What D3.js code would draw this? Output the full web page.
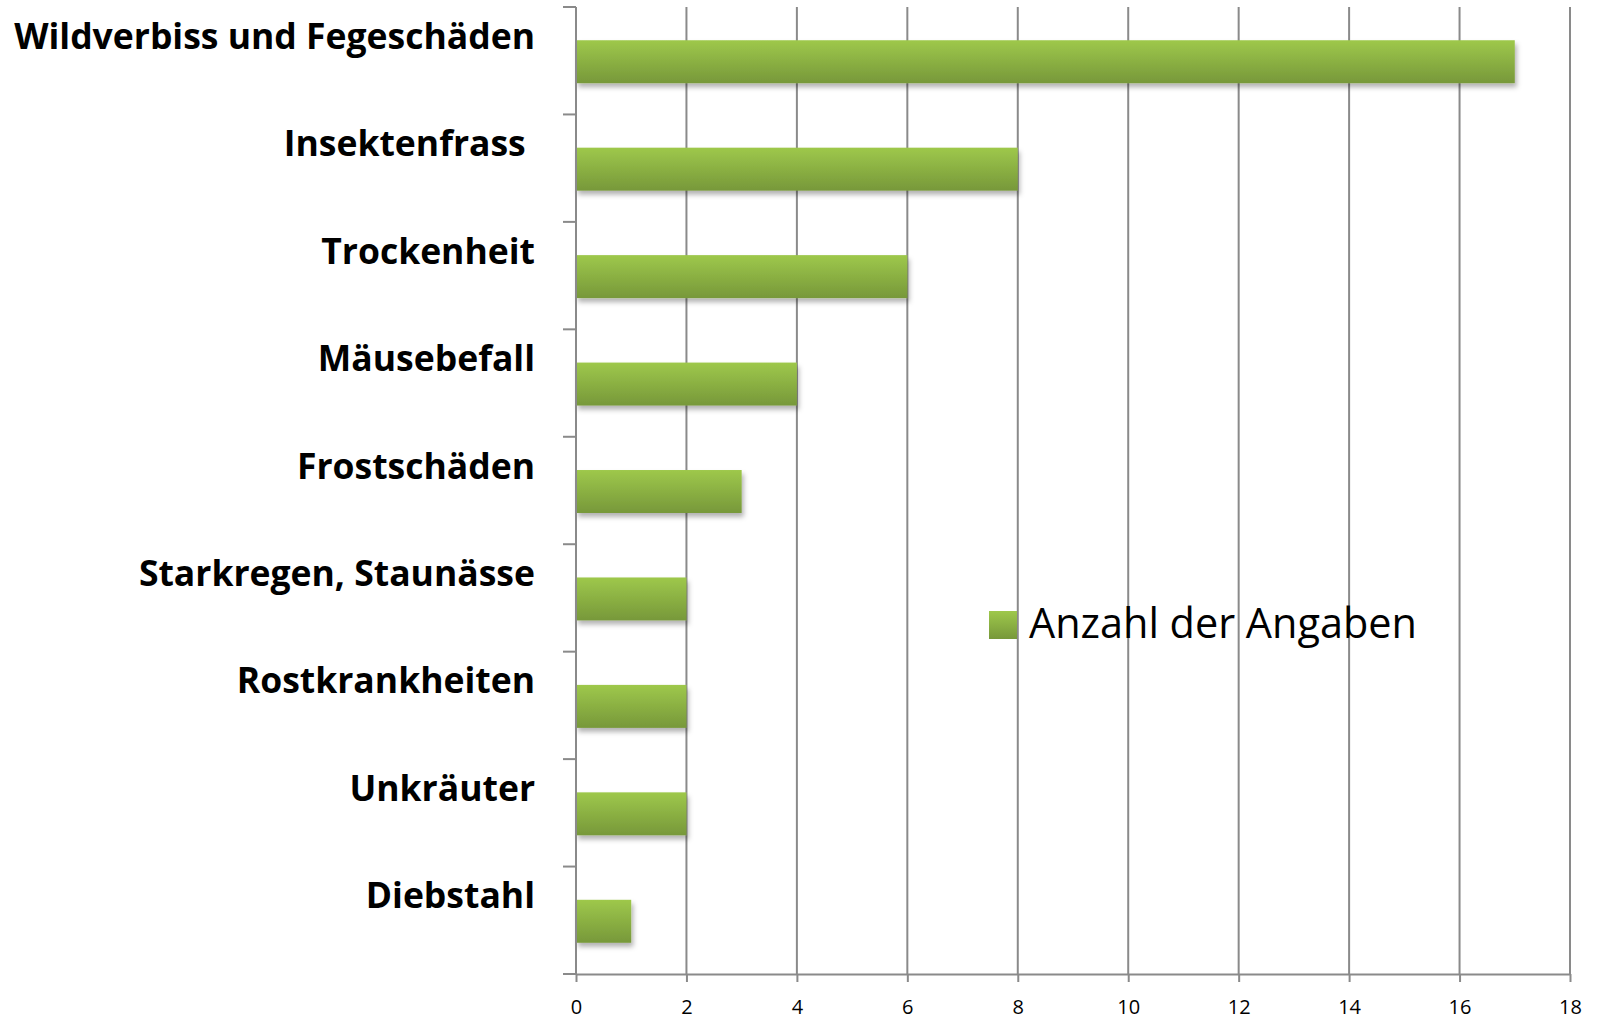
<!DOCTYPE html>
<html><head><meta charset="utf-8">
<script src="https://cdn.jsdelivr.net/npm/d3@7"></script>
<style>body{margin:0;background:#fff}</style>
</head><body>
<svg id="c" width="1600" height="1020"></svg>
<script>
const categories = ["Wildverbiss und Fegeschäden","Insektenfrass ","Trockenheit","Mäusebefall","Frostschäden","Starkregen, Staunässe","Rostkrankheiten","Unkräuter","Diebstahl"];
const values = [17, 8, 6, 4, 3, 2, 2, 2, 1];
const xTicks = [0,2,4,6,8,10,12,14,16,18];
const seriesName = "Anzahl der Angaben";

(function(){
const svg = d3.select("#c");
const pL = 576, pR = 1570, pT = 7, pB = 974;
const font = "'Open Sans', Lato, sans-serif";
const x = d3.scaleLinear().domain([0,18]).range([pL,pR]);
const y = d3.scaleBand().domain(categories).range([pT,pB]).paddingInner(0.6).paddingOuter(0.3);
const yb = d3.scaleBand().domain(categories).range([pT,pB]);

const defs = svg.append("defs");
const g = defs.append("linearGradient").attr("id","gr").attr("x1",0).attr("y1",0).attr("x2",0).attr("y2",1);
g.append("stop").attr("offset","0%").attr("stop-color","#9ec84b");
g.append("stop").attr("offset","100%").attr("stop-color","#77983a");
const f = defs.append("filter").attr("id","sh").attr("x","-10%").attr("y","-30%").attr("width","130%").attr("height","180%");
f.append("feDropShadow").attr("dx",2).attr("dy",4).attr("stdDeviation",2.5).attr("flood-color","#000").attr("flood-opacity",0.3);

const grey = "#8a8a8a";
svg.append("g").selectAll("line").data(xTicks.slice(1)).join("line")
  .attr("x1",d=>x(d)).attr("x2",d=>x(d)).attr("y1",pT).attr("y2",pB)
  .attr("stroke",grey).attr("stroke-width",2);

svg.append("g").selectAll("rect").data(categories).join("rect")
  .attr("x",x(0)).attr("y",d=>y(d)+1).attr("height",y.bandwidth())
  .attr("width",(d,i)=>x(values[i])-x(0))
  .attr("fill","url(#gr)").attr("filter","url(#sh)");

const xa = svg.append("g").attr("transform",`translate(0,${pB})`)
  .call(d3.axisBottom(x).tickValues(xTicks).tickSize(8).tickPadding(18).tickSizeOuter(0));
xa.select(".domain").attr("stroke",grey).attr("stroke-width",2);
xa.selectAll(".tick line").attr("stroke",grey).attr("stroke-width",2);
xa.selectAll(".tick text").attr("font-family",font).attr("font-size",20).attr("fill","#000");

svg.append("line").attr("x1",pL).attr("x2",pL).attr("y1",pT).attr("y2",pB).attr("stroke",grey).attr("stroke-width",2);
svg.append("g").selectAll("line").data(categories).join("line")
  .attr("x1",pL-13).attr("x2",pL).attr("y1",d=>yb(d)).attr("y2",d=>yb(d))
  .attr("stroke",grey).attr("stroke-width",2);
svg.append("line").attr("x1",pL-13).attr("x2",pL).attr("y1",pB).attr("y2",pB).attr("stroke",grey).attr("stroke-width",2);

const labs = svg.append("g").selectAll("text").data(categories).join("text")
  .attr("x",535).attr("y",d=>yb(d)+yb.bandwidth()/2-12)
  .attr("text-anchor","end").attr("font-family",font)
  .attr("font-weight","bold").attr("font-size",36).attr("fill","#000")
  .style("white-space","pre")
  .text(d=>d);
const w0 = labs.node().getComputedTextLength();
const fs = Math.min(40, 36*521/w0);
labs.attr("font-size",fs);

svg.append("rect").attr("x",989).attr("y",611).attr("width",28).attr("height",28).attr("fill","url(#gr)");
const lt = svg.append("text").attr("x",1029).attr("y",638).attr("font-family",font)
  .attr("font-size",42).attr("fill","#000").text(seriesName);
const lw = lt.node().getComputedTextLength();
lt.attr("font-size",Math.min(46, 42*388/lw));
})();
</script>
</body></html>
